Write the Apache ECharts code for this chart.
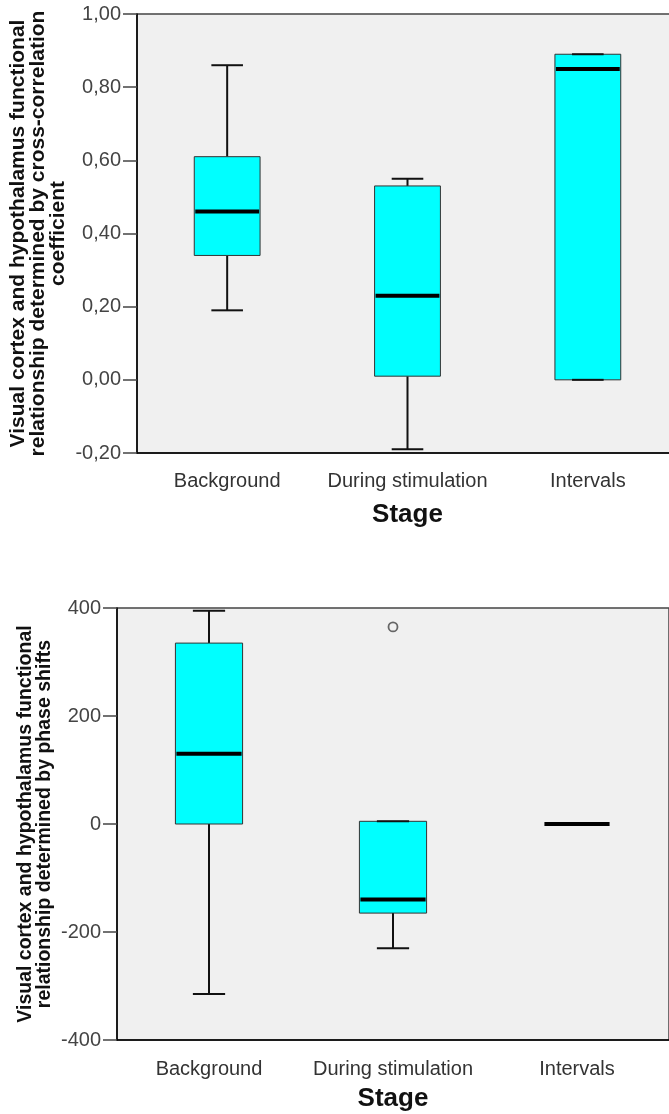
<!DOCTYPE html>
<html>
<head>
<meta charset="utf-8">
<script src="https://cdn.jsdelivr.net/npm/echarts@6/dist/echarts.min.js"></script>
<style>
html,body{margin:0;padding:0;background:#fff;}
#chart{width:669px;height:1114px;}
</style>
</head>
<body>
<div id="chart"></div>
<script>
// Categories
var stages = ['Background', 'During stimulation', 'Intervals'];

// Top chart: cross-correlation coefficient  [low, q1, median, q3, high]
var ccLow    = [0.19, -0.19, 0.00];
var ccQ1     = [0.34,  0.01, 0.00];
var ccMedian = [0.46,  0.23, 0.85];
var ccQ3     = [0.61,  0.53, 0.89];
var ccHigh   = [0.86,  0.55, 0.89];

// Bottom chart: phase shifts  [low, q1, median, q3, high]
var psLow    = [-315, -230, 0];
var psQ1     = [0, -165, 0];
var psMedian = [130, -140, 0];
var psQ3     = [335, 5, 0];
var psHigh   = [395, 5, 0];
var psOutliers = [[1, 365]];

var ccTicks = [-0.2, 0, 0.2, 0.4, 0.6, 0.8, 1.0];
var psTicks = [-400, -200, 0, 200, 400];

var topTitle = 'Visual cortex and hypothalamus functional\nrelationship determined by cross-correlation\ncoefficient';
var botTitle = 'Visual cortex and hypothalamus functional\nrelationship determined by phase shifts';
var xTitle = 'Stage';

function buildData(low, q1, med, q3, high) {
  return stages.map(function (s, i) { return [i, low[i], q1[i], med[i], q3[i], high[i]]; });
}

function renderBox(params, api) {
  var idx = api.value(0);
  var low = api.value(1), q1 = api.value(2), med = api.value(3), q3 = api.value(4), high = api.value(5);
  var bw = api.size([1, 0])[0] * 0.365;
  var cw = bw * 0.48;
  var pLow = api.coord([idx, low]);
  var pQ1 = api.coord([idx, q1]);
  var pMed = api.coord([idx, med]);
  var pQ3 = api.coord([idx, q3]);
  var pHigh = api.coord([idx, high]);
  var cx = pMed[0];
  var wStyle = {stroke: '#111', lineWidth: 2};
  var children = [];
  if (high !== q3) children.push({type: 'line', shape: {x1: cx, y1: pQ3[1], x2: cx, y2: pHigh[1]}, style: wStyle});
  if (low !== q1) children.push({type: 'line', shape: {x1: cx, y1: pQ1[1], x2: cx, y2: pLow[1]}, style: wStyle});
  if (q3 !== q1) {
    children.push({type: 'rect', shape: {x: cx - bw / 2, y: pQ3[1], width: bw, height: pQ1[1] - pQ3[1]},
      style: {fill: '#00ffff', stroke: '#333', lineWidth: 1}});
  }
  if (!(high === q3 && low === q1 && q1 === q3)) {
    children.push({type: 'line', shape: {x1: cx - cw / 2, y1: pHigh[1], x2: cx + cw / 2, y2: pHigh[1]}, style: wStyle});
    children.push({type: 'line', shape: {x1: cx - cw / 2, y1: pLow[1], x2: cx + cw / 2, y2: pLow[1]}, style: wStyle});
  }
  children.push({type: 'line', shape: {x1: cx - bw / 2 + 1, y1: pMed[1], x2: cx + bw / 2 - 1, y2: pMed[1]},
    style: {stroke: '#000', lineWidth: 4}});
  return {type: 'group', children: children};
}

var labelFont = 'Liberation Sans, Arial, sans-serif';

function xAxisCfg(gridIndex, margin, gap) {
  return {
    gridIndex: gridIndex, type: 'category', data: stages, boundaryGap: true,
    axisLine: {onZero: false, lineStyle: {color: '#000', width: 1.5}},
    axisTick: {alignWithLabel: true, length: 14, lineStyle: {color: '#444', width: 1.5}},
    axisLabel: {interval: 0, margin: margin, color: '#333', fontSize: 20, fontFamily: labelFont},
    name: xTitle, nameLocation: 'middle', nameGap: gap, nameMoveOverlap: false,
    nameTextStyle: {fontSize: 26, fontWeight: 'bold', color: '#111', fontFamily: labelFont},
    splitLine: {show: false}
  };
}

function yAxisCfg(gridIndex, min, max, interval, fmt, title, gap, fs, lh) {
  return {
    gridIndex: gridIndex, type: 'value', min: min, max: max, interval: interval,
    axisLine: {show: true, onZero: false, lineStyle: {color: '#000', width: 1.5}},
    axisTick: {show: true, length: 14, lineStyle: {color: '#444', width: 1.5}},
    axisLabel: {margin: 16, color: '#444', fontSize: 20, fontFamily: labelFont, formatter: fmt},
    splitLine: {show: false},
    name: title, nameLocation: 'middle', nameGap: gap, nameRotate: 90, nameMoveOverlap: false,
    nameTextStyle: {fontSize: fs, lineHeight: lh, fontWeight: 'bold', color: '#111', fontFamily: labelFont, align: 'center'}
  };
}

var chart = echarts.init(document.getElementById('chart'), null, {renderer: 'canvas'});
chart.setOption({
  animation: false,
  backgroundColor: '#fff',
  grid: [
    {left: 137, top: 14, width: 541, height: 439, show: true, outerBoundsMode: 'none', containLabel: false,
      backgroundColor: '#f0f0f0', borderColor: '#444', borderWidth: 1.5},
    {left: 117, top: 608, width: 552, height: 432, show: true, outerBoundsMode: 'none', containLabel: false,
      backgroundColor: '#f0f0f0', borderColor: '#444', borderWidth: 1.5}
  ],
  xAxis: [xAxisCfg(0, 18, 49), xAxisCfg(1, 19, 46)],
  yAxis: [
    yAxisCfg(0, ccTicks[0], ccTicks[ccTicks.length - 1], 0.2, function (v) { return v.toFixed(2).replace('.', ','); }, topTitle, 69, 21, 20),
    yAxisCfg(1, psTicks[0], psTicks[psTicks.length - 1], 200, function (v) { return String(Math.round(v)); }, botTitle, 63, 19.5, 19)
  ],
  series: [
    {type: 'custom', xAxisIndex: 0, yAxisIndex: 0, renderItem: renderBox,
      encode: {x: 0, y: [1, 2, 3, 4, 5]}, data: buildData(ccLow, ccQ1, ccMedian, ccQ3, ccHigh)},
    {type: 'custom', xAxisIndex: 1, yAxisIndex: 1, renderItem: renderBox,
      encode: {x: 0, y: [1, 2, 3, 4, 5]}, data: buildData(psLow, psQ1, psMedian, psQ3, psHigh)},
    {type: 'scatter', xAxisIndex: 1, yAxisIndex: 1, symbol: 'circle', symbolSize: 9,
      itemStyle: {color: '#f0f0f0', borderColor: '#444', borderWidth: 1.8}, data: psOutliers}
  ]
});
</script>
</body>
</html>
